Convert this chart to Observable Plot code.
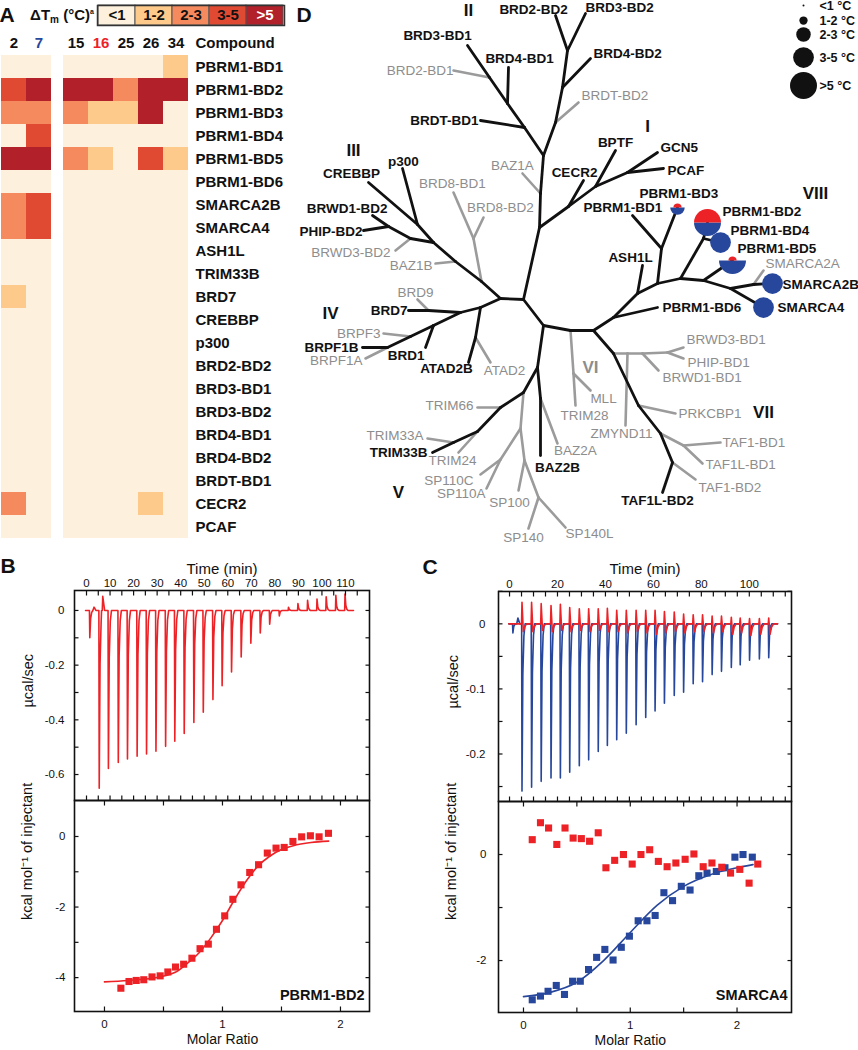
<!DOCTYPE html>
<html><head><meta charset="utf-8">
<script src="https://cdn.jsdelivr.net/npm/d3@7"></script>
<script src="https://cdn.jsdelivr.net/npm/@observablehq/plot@0.6"></script>
<style>
body{margin:0;background:#fff;}
#root{position:relative;width:858px;height:1050px;overflow:hidden;background:#fff;font-family:'Liberation Sans',Arial,Helvetica,sans-serif;color:#111;}
.txt{position:absolute;white-space:nowrap;transform:translate(-50%,-50%);}
</style></head>
<body><div id="root"></div>
<script>
// ---------------- DATA ----------------
// Panel A: thermal shift heat map
const compoundsLeft = ["2", "7"];
const compoundsRight = ["15", "16", "25", "26", "34"];
const compounds = [...compoundsLeft, ...compoundsRight];
const proteins = ["PBRM1-BD1","PBRM1-BD2","PBRM1-BD3","PBRM1-BD4","PBRM1-BD5","PBRM1-BD6","SMARCA2B","SMARCA4","ASH1L","TRIM33B","BRD7","CREBBP","p300","BRD2-BD2","BRD3-BD1","BRD3-BD2","BRD4-BD1","BRD4-BD2","BRDT-BD1","CECR2","PCAF"];
const dtmLevels = ["<1", "1-2", "2-3", "3-5", ">5"];
// level index per protein (rows) for compounds 2,7,15,16,25,26,34
const heat = [
  [0,0,0,0,0,0,1],
  [3,4,4,4,2,4,4],
  [2,2,2,1,1,4,0],
  [0,3,0,0,0,0,0],
  [4,4,2,1,0,3,1],
  [0,0,0,0,0,0,0],
  [2,3,0,0,0,0,0],
  [2,3,0,0,0,0,0],
  [0,0,0,0,0,0,0],
  [0,0,0,0,0,0,0],
  [1,0,0,0,0,0,0],
  [0,0,0,0,0,0,0],
  [0,0,0,0,0,0,0],
  [0,0,0,0,0,0,0],
  [0,0,0,0,0,0,0],
  [0,0,0,0,0,0,0],
  [0,0,0,0,0,0,0],
  [0,0,0,0,0,0,0],
  [0,0,0,0,0,0,0],
  [2,0,0,0,0,1,0],
  [0,0,0,0,0,0,0]
];

// Panel D: bromodomain tree (layout coordinates of nodes and tips)
const treeNodes = [
  ["BRD2-BD2",555,15],["BRD3-BD2",585,13],["j1",567,50],["BRD4-BD2",590,58],["j2",562,87],
  ["BRDT-BD2",578,102],["j3",555,122],["j4",543,155],
  ["k1",524,127],["BRDT-BD1",480,120],["k2",507,103],["BRD4-BD1",508,67],["k3",489,77],["BRD2-BD1",453,70],["BRD3-BD1",467,45],
  ["b1",540,193],["BAZ1A",522,173],["i0",539,227],
  ["c1",568,206],["CECR2",583,180],["b2",595,186],["BPTF",615,150],["p1",627,172],["GCN5",657,152],["PCAF",663,168],
  ["NB",523,299],["NA",500,298],["NC",543,325],["NC2",570,330],["ND",593,330],
  ["v1",613,317],["PBRM1-BD6",657,307],["v2",637,293],["ASH1L",642,265],["v3",657,283],["u1",661,248],["PBRM1-BD1",632,215],["PBRM1-BD3",677,207],
  ["v4",680,278],["w1",703,238],["PBRM1-BD2",707,222],["PBRM1-BD4",720,242],["v5",703,280],["PBRM1-BD5",732,260],
  ["v6",730,288],["s1",753,284],["SMARCA2B",772,283],["SMARCA2A",763,270],["SMARCA4",763,307],
  ["r1",613,353],["g0",627,353],["ZMYND11",625,425],["g1",642,353],["BRWD1-BD1",658,370],["g2",667,352],["BRWD3-BD1",683,347],["PHIP-BD1",683,358],
  ["r2",638,405],["PRKCBP1",675,413],["t1",660,433],["tf",683,445],["TAF1-BD1",720,442],["TAF1L-BD1",702,463],["t2",672,462],["TAF1-BD2",695,479],["TAF1L-BD2",662,492],
  ["vi1",573,373],["MLL",590,390],["TRIM28",575,405],
  ["e1",537,367],["BAZ2B",540,455],["e1b",540,398],["BAZ2A",557,443],
  ["e2",523,392],["sp0",520,428],["sp1",500,459],["SP110C",480,474],["SP110A",486,488],["sp2",524,460],["SP100",518,490],["sp3",538,497],["SP140",528,528],["SP140L",565,527],
  ["e3",500,407],["TRIM66",477,407],["e4",477,431],["TRIM24",458,452],["e5",453,442],["TRIM33A",427,438],["TRIM33B",432,452],
  ["a1",480,307],["a1b",475,337],["ATAD2B",468,362],["ATAD2",490,362],
  ["a2",460,312],["a2b",428,310],["BRD9",417,299],["BRD7",408,310],
  ["a3",433,325],["BRD1",425,347],["a4",410,336],["BRPF3",383,333],["a5",387,347],["BRPF1A",365,358],["BRPF1B",362,347],
  ["h1",481,281],["br8",473,238],["BRD8-BD1",453,192],["BRD8-BD2",483,217],["h2",455,261],["BAZ1B",435,263],
  ["R3",433,242],["C1",417,224],["CREBBP",368,182],["p300",402,168],["C2",410,238],["PH",388,226],["BRWD1-BD2",372,215],["PHIP-BD2",363,230],["BRWD3-BD2",395,250]
];
const treeEdgesStudied = [
  ["j1","BRD2-BD2"],["j1","BRD3-BD2"],["j1","j2"],["j2","BRD4-BD2"],["j2","j3"],["j3","j4"],
  ["j4","k1"],["k1","BRDT-BD1"],["k1","k2"],["k2","BRD4-BD1"],["k2","k3"],["k3","BRD3-BD1"],
  ["j4","b1"],["b1","i0"],["i0","NB"],
  ["i0","c1"],["c1","CECR2"],["c1","b2"],["b2","BPTF"],["b2","p1"],["p1","GCN5"],["p1","PCAF"],
  ["NB","NA"],["NB","NC"],["NC","NC2"],["NC2","ND"],
  ["ND","v1"],["v1","PBRM1-BD6"],["v1","v2"],["v2","ASH1L"],["v2","v3"],["v3","u1"],["u1","PBRM1-BD1"],["u1","PBRM1-BD3"],
  ["v3","v4"],["v4","w1"],["w1","PBRM1-BD2"],["w1","PBRM1-BD4"],["v4","v5"],["v5","PBRM1-BD5"],["v5","v6"],["v6","s1"],["s1","SMARCA2B"],["v6","SMARCA4"],
  ["ND","r1"],["r1","r2"],["r2","t1"],["t1","t2"],["t2","TAF1L-BD2"],
  ["NC","e1"],["e1","e2"],["e2","e3"],["e3","e4"],["e4","e5"],["e5","TRIM33B"],["e1","e1b"],["e1b","BAZ2B"],
  ["NA","a1"],["a1","a2"],["a2","a3"],["a3","a4"],["a4","a5"],["a5","BRPF1B"],["a3","BRD1"],["a1","a1b"],["a1b","ATAD2B"],["a2","a2b"],["a2b","BRD7"],
  ["NA","h1"],["h1","h2"],["h2","R3"],["R3","C1"],["C1","CREBBP"],["C1","p300"],["R3","C2"],["C2","PH"],["PH","BRWD1-BD2"],["PH","PHIP-BD2"]
];
const treeEdgesOther = [
  ["j3","BRDT-BD2"],["k3","BRD2-BD1"],["b1","BAZ1A"],["s1","SMARCA2A"],
  ["r1","g0"],["g0","g1"],["g1","g2"],["g2","BRWD3-BD1"],["g2","PHIP-BD1"],["g1","BRWD1-BD1"],["g0","ZMYND11"],
  ["r2","PRKCBP1"],["t1","tf"],["tf","TAF1-BD1"],["tf","TAF1L-BD1"],["t2","TAF1-BD2"],
  ["NC2","vi1"],["vi1","MLL"],["vi1","TRIM28"],
  ["e1b","BAZ2A"],["e2","sp0"],["sp0","sp1"],["sp1","SP110C"],["sp1","SP110A"],["sp0","sp2"],["sp2","sp3"],["sp2","SP100"],["sp3","SP140"],["sp3","SP140L"],
  ["e3","TRIM66"],["e4","TRIM24"],["e5","TRIM33A"],
  ["a1b","ATAD2"],["a2b","BRD9"],["a4","BRPF3"],["a5","BRPF1A"],
  ["h1","br8"],["br8","BRD8-BD1"],["br8","BRD8-BD2"],["h2","BAZ1B"],["C2","BRWD3-BD2"]
];
const treeLabelsStudied = [
  ["BRD2-BD2","middle",533,9],["BRD3-BD2","start",585,7],["BRD3-BD1","middle",437,35],["BRD4-BD1","middle",519,58],
  ["BRD4-BD2","start",593,53],["BRDT-BD1","end",478,120],["CREBBP","middle",351,173],["p300","middle",403,161],
  ["BRWD1-BD2","end",387,208],["PHIP-BD2","end",362,231],["BRD7","end",407,310],["BRPF1B","end",358,347],
  ["BRD1","end",424,355],["ATAD2B","middle",446,368],["TRIM33B","end",427,452],["BAZ2B","middle",557,467],
  ["TAF1L-BD2","middle",657,500],["CECR2","middle",574,172],["BPTF","middle",615,142],["GCN5","start",660,147],
  ["PCAF","start",667,170],["PBRM1-BD1","start",583,207],["PBRM1-BD3","start",639,193],["PBRM1-BD2","start",722,211],
  ["PBRM1-BD4","start",730,230],["PBRM1-BD5","start",737,248],["ASH1L","middle",630,257],["SMARCA2B","start",782,284],
  ["SMARCA4","start",777,307],["PBRM1-BD6","start",662,307]
];
const treeLabelsOther = [
  ["BRD2-BD1","end",453,70],["BRDT-BD2","start",581,95],["BAZ1A","middle",512,165],["BRD8-BD1","middle",452,183],
  ["BRD8-BD2","middle",500,207],["BRWD3-BD2","end",390,252],["BAZ1B","end",432,265],["BRD9","middle",415,292],
  ["BRPF3","end",380,333],["BRPF1A","end",362,360],["ATAD2","middle",504,370],["TRIM66","end",473,405],
  ["TRIM33A","end",423,435],["TRIM24","middle",452,460],["SP110C","end",473,480],["SP110A","end",485,493],
  ["SP100","middle",509,502],["SP140","middle",523,537],["SP140L","middle",589,533],["BAZ2A","middle",575,450],
  ["TRIM28","middle",584,415],["MLL","middle",603,398],["ZMYND11","middle",621,433],["SMARCA2A","start",765,263],
  ["BRWD3-BD1","start",686,339],["PHIP-BD1","start",687,362],["BRWD1-BD1","start",662,377],["PRKCBP1","start",678,413],
  ["TAF1-BD1","start",722,442],["TAF1L-BD1","start",705,464],["TAF1-BD2","start",698,487]
];
const treeClasses = [["I",647,126,1],["II",468,10,1],["III",353,150,1],["IV",330,313,1],["V",398,492,1],["VI",590,367,0],["VII",763,412,1],["VIII",815,193,1]];

// Panel B: PBRM1-BD2 + compound 16 (ITC)
const bInjTime = [1.4,5.4,9.3,13.5,17.4,21.5,25.5,29.5,33.6,37.5,41.5,45.6,49.6,53.7,57.6,61.6,65.7,69.8,73.8,77.8,81.9,85.8,89.8,93.9,97.9,101.8,105.9,109.8];
const bPeak = [-0.1,-0.65,-0.578,-0.556,-0.543,-0.533,-0.525,-0.515,-0.497,-0.478,-0.45,-0.41,-0.372,-0.326,-0.275,-0.225,-0.17,-0.12,-0.082,-0.05,-0.02,0.012,0.025,0.037,0.042,0.05,0.055,0.06];
const bBumps = [[3.2,0.012],[6.9,0.052]];
const bMR = [0.139,0.208,0.269,0.333,0.403,0.472,0.537,0.602,0.671,0.741,0.81,0.88,0.949,1.019,1.088,1.157,1.231,1.306,1.38,1.454,1.523,1.597,1.671,1.745,1.819,1.898];
const bKcal = [-4.30,-4.11,-4.08,-4.06,-3.98,-3.95,-3.84,-3.70,-3.62,-3.45,-3.18,-3.05,-2.63,-2.25,-1.78,-1.37,-1.02,-0.80,-0.47,-0.33,-0.31,-0.14,-0.01,0.02,-0.01,0.09];
const bFitMR = [0,0.2,0.4,0.6,0.7,0.8,0.9,1.0,1.1,1.2,1.3,1.4,1.5,1.6,1.75,1.9];
const bFitKcal = [-4.12,-4.08,-4.02,-3.85,-3.6,-3.3,-2.88,-2.38,-1.8,-1.27,-0.84,-0.56,-0.37,-0.26,-0.17,-0.13];
const bTimeLabels = [0,10,20,30,40,50,60,70,80,90,100,110];
const bRateLabels = [0,-0.2,-0.4,-0.6];
const bMRLabels = [0,1,2];
const bKcalLabels = [0,-2,-4];

// Panel C: SMARCA4 + compound 7 (blue) and compound 16 (red)
const cInjTime = [1.4,5.2,9.2,13.2,17.3,21.2,25.1,29.1,33.0,37.0,40.8,44.7,48.7,52.8,56.8,60.7,64.6,68.7,72.6,76.6,80.5,84.5,88.4,92.5,96.2,100.1,104.2,108.1];
const cPeak7 = [-0.014,-0.257,-0.251,-0.242,-0.237,-0.237,-0.228,-0.218,-0.209,-0.196,-0.187,-0.178,-0.168,-0.155,-0.144,-0.134,-0.122,-0.110,-0.105,-0.092,-0.089,-0.078,-0.073,-0.067,-0.063,-0.056,-0.054,-0.052];
const cBumps7 = [[3.5,0.009]];
const cPeak16 = [0.033,0.033,0.031,0.028,0.030,0.025,0.023,0.023,0.023,0.024,0.021,0.021,0.021,0.021,0.021,0.019,0.018,0.015,0.014,0.014,0.012,0.012,0.010,0.009,0.008,0.008,0.009];
const cDip16 = [-0.012,-0.012,-0.010,-0.012,-0.010,-0.012,-0.010,-0.012,-0.010,-0.012,-0.012,-0.014,-0.012,-0.014,-0.016,-0.014,-0.012,-0.014,-0.012,-0.012,-0.014,-0.012,-0.016,-0.014,-0.018,-0.016,-0.016];
const cMR7 = [0.082,0.159,0.23,0.307,0.384,0.46,0.532,0.609,0.685,0.762,0.839,0.916,0.992,1.074,1.156,1.233,1.315,1.396,1.478,1.56,1.642,1.719,1.806,1.887,1.98,2.056,2.143];
const cKcal7 = [-2.74,-2.67,-2.58,-2.47,-2.64,-2.39,-2.39,-2.17,-1.94,-1.79,-1.99,-1.75,-1.54,-1.25,-1.25,-1.15,-0.72,-0.87,-0.60,-0.67,-0.40,-0.35,-0.32,-0.25,-0.05,0.0,-0.05];
const cMR16 = [0.082,0.159,0.235,0.312,0.389,0.465,0.542,0.619,0.7,0.772,0.854,0.936,1.018,1.1,1.182,1.263,1.345,1.427,1.514,1.596,1.683,1.765,1.857,1.939,2.026,2.113,2.194];
const cKcal16 = [0.28,0.60,0.50,0.19,0.50,0.31,0.30,0.25,0.41,-0.25,-0.11,0.0,-0.18,0.0,0.09,-0.13,-0.23,-0.16,-0.09,0.01,-0.23,-0.16,-0.24,-0.35,-0.28,-0.54,-0.18];
const cFitMR = [0,0.25,0.5,0.75,1.0,1.25,1.5,1.75,2.0,2.15];
const cFitKcal = [-2.68,-2.6,-2.41,-2.0,-1.47,-0.96,-0.6,-0.38,-0.25,-0.19];
const cTimeLabels = [0,20,40,60,80,100];
const cRateLabels = [0,-0.1,-0.2];
const cMRLabels = [0,1,2];
const cKcalLabels = [0,-2];

// ---------------- STYLE ----------------
const FONT = "'Liberation Sans', Arial, Helvetica, sans-serif";
const INK = "#111";
const RED = "#ec2227";
const BLUE = "#27479c";
const GRAYLINE = "#9b9b9b";
const GRAYTEXT = "#8d8d8d";
const dtmColors = ["#fdf0dc", "#fdca8b", "#f48a5e", "#e04a33", "#b2202a"];
const root = document.getElementById("root");
const style = () => ({fontFamily: FONT, fontSize: "11.5px", background: "transparent", overflow: "visible", color: INK});
function mount(svg, left, top) {
  svg.style.position = "absolute"; svg.style.left = left + "px"; svg.style.top = top + "px";
  svg.style.maxWidth = "none"; svg.style.overflow = "visible";
  root.appendChild(svg);
}
function htmlText(html, x, y, css) {
  const d = document.createElement("div");
  d.className = "txt"; d.innerHTML = html;
  d.style.left = x + "px"; d.style.top = y + "px";
  d.style.cssText += css || "";
  root.appendChild(d);
}

// ---------------- PANEL A ----------------
const cells = proteins.flatMap((p, i) => compounds.map((c, j) => ({protein: p, compound: c, level: dtmLevels[heat[i][j]]})));
const heatColor = {type: "ordinal", domain: dtmLevels, range: dtmColors};
const colLabel = (list, fill) => Plot.text(list, {x: d => d, text: d => d, frameAnchor: "top", lineAnchor: "bottom", dy: -1, fontSize: 15, fontWeight: "bold", fill});

mount(Plot.plot({
  width: 52, height: 550, marginLeft: 0, marginRight: 1, marginTop: 48, marginBottom: 5,
  x: {type: "band", domain: compoundsLeft, padding: 0, axis: null},
  y: {type: "band", domain: proteins, padding: 0, axis: null},
  color: heatColor, style: style(),
  marks: [
    Plot.cell(cells.filter(d => compoundsLeft.includes(d.compound)), {x: "compound", y: "protein", fill: "level", inset: 0}),
    colLabel(compoundsLeft.filter(c => c !== "7"), INK),
    colLabel(["7"], BLUE)
  ]
}), 0, 0);

mount(Plot.plot({
  width: 239, height: 550, marginLeft: 0, marginRight: 111, marginTop: 48, marginBottom: 5,
  x: {type: "band", domain: compoundsRight, padding: 0, axis: null},
  y: {type: "band", domain: proteins, padding: 0, axis: null},
  color: heatColor, style: style(),
  marks: [
    Plot.cell(cells.filter(d => compoundsRight.includes(d.compound)), {x: "compound", y: "protein", fill: "level", inset: 0}),
    colLabel(compoundsRight.filter(c => c !== "16"), INK),
    colLabel(["16"], RED),
    Plot.text(["Compound"], {frameAnchor: "top-right", dx: 6, dy: -1, textAnchor: "start", lineAnchor: "bottom", fontSize: 15, fontWeight: "bold", fill: INK}),
    Plot.axisY({anchor: "right", tickSize: 0, tickPadding: 6, label: null, fontSize: 15, fontWeight: "bold", fill: INK})
  ]
}), 61, 0);

// legend for A
mount(Plot.plot({
  width: 300, height: 30, marginLeft: 97, marginRight: 16, marginTop: 5, marginBottom: 5,
  x: {type: "band", domain: dtmLevels, padding: 0, axis: null},
  color: heatColor, style: style(),
  marks: [
    Plot.cell(dtmLevels, {x: d => d, fill: d => d, stroke: "#555", strokeWidth: 1, inset: 0}),
    Plot.frame({stroke: "#333", strokeWidth: 1.5}),
    Plot.text(dtmLevels.filter(l => l !== ">5"), {x: d => d, text: d => d, fontSize: 15, fontWeight: "bold", fill: INK}),
    Plot.text([">5"], {x: d => d, text: d => d, fontSize: 15, fontWeight: "bold", fill: "#fff"})
  ]
}), 0, 0);
htmlText('ΔT<sub style="font-size:10px;vertical-align:-3px">m</sub> (°C)<sup style="font-size:7px;vertical-align:6px">a</sup>', 62, 16, "font-weight:bold;font-size:15px;line-height:18px;");
htmlText("A", 7, 15, "font-weight:bold;font-size:21px;");

// ---------------- PANEL D ----------------
const nodeMap = new Map(treeNodes.map(([id, x, y]) => [id, {x, y}]));
const toLinks = edges => edges.map(([a, b]) => ({x1: nodeMap.get(a).x, y1: nodeMap.get(a).y, x2: nodeMap.get(b).x, y2: nodeMap.get(b).y}));
const halfTop = {draw(ctx, size) { const r = Math.sqrt(size / Math.PI); ctx.moveTo(-r, 0); ctx.arc(0, 0, r, Math.PI, 2 * Math.PI); ctx.closePath(); }};
const halfBottom = {draw(ctx, size) { const r = Math.sqrt(size / Math.PI); ctx.moveTo(r, 0); ctx.arc(0, 0, r, 0, Math.PI); ctx.closePath(); }};
const idx7 = compounds.indexOf("7"), idx16 = compounds.indexOf("16");
const circ = proteins.map((p, i) => ({p, l7: heat[i][idx7], l16: heat[i][idx16], ...(nodeMap.get(p) || {})})).filter(d => d.x !== undefined && (d.l7 > 0 || d.l16 > 0));
const fullBlue = circ.filter(d => d.l16 === 0 && d.l7 > 0);
const halves = circ.filter(d => d.l16 > 0 && d.l7 > 0);
const legendY = [5, 20, 34, 57, 85];
const legendItems = dtmLevels.map((l, i) => ({l, i, y: legendY[i]}));

const labelMarks = [];
for (const [list, fill, weight] of [[treeLabelsOther, GRAYTEXT, "normal"], [treeLabelsStudied, INK, "bold"]]) {
  for (const anchor of ["start", "middle", "end"]) {
    labelMarks.push(Plot.text(list.filter(d => d[1] === anchor), {x: d => d[2], y: d => d[3], text: d => d[0], textAnchor: anchor, fill, fontWeight: weight, fontSize: 13.5}));
  }
}
mount(Plot.plot({
  width: 558, height: 560, marginLeft: 0, marginRight: 0, marginTop: 0, marginBottom: 0,
  x: {domain: [300, 858], range: [0, 558], axis: null},
  y: {domain: [0, 560], range: [0, 560], axis: null},
  r: {type: "linear", domain: [0, 4], range: [1, 13.5]},
  style: style(),
  marks: [
    Plot.link(toLinks(treeEdgesOther), {x1: "x1", y1: "y1", x2: "x2", y2: "y2", stroke: GRAYLINE, strokeWidth: 2.6, strokeLinecap: "round"}),
    Plot.link(toLinks(treeEdgesStudied), {x1: "x1", y1: "y1", x2: "x2", y2: "y2", stroke: INK, strokeWidth: 2.8, strokeLinecap: "round"}),
    ...labelMarks,
    Plot.text(treeClasses.filter(d => d[3]), {x: d => d[1], y: d => d[2], text: d => d[0], fontSize: 17, fontWeight: "bold", fill: INK}),
    Plot.text(treeClasses.filter(d => !d[3]), {x: d => d[1], y: d => d[2], text: d => d[0], fontSize: 17, fontWeight: "bold", fill: GRAYTEXT}),
    Plot.dot(fullBlue, {x: "x", y: "y", r: "l7", fill: BLUE}),
    Plot.dot(halves, {x: "x", y: "y", r: "l7", fill: BLUE, symbol: halfBottom}),
    Plot.dot(halves, {x: "x", y: "y", r: "l16", fill: RED, symbol: halfTop}),
    Plot.dot(legendItems, {x: () => 803, y: "y", r: "i", fill: INK}),
    Plot.text(legendItems, {x: () => 819, y: "y", text: d => d.l + " °C", textAnchor: "start", fontSize: 12.5, fontWeight: "bold", fill: INK})
  ]
}), 300, 0);
htmlText("D", 304, 15, "font-weight:bold;font-size:21px;");

// ---------------- PANELS B & C ----------------
function trace(times, peaks, bumps, start, end, dips) {
  const v = [[start, 0]];
  times.forEach((t, i) => {
    const p = peaks[i];
    if (dips) v.push([t - 0.2, 0], [t, p], [t + 0.55, dips[i]], [t + 1.2, dips[i] * 0.3], [t + 2, 0]);
    else v.push([t - 0.15, 0], [t, p], [t + 0.35, p * 0.3], [t + 0.8, p * 0.07], [t + 1.3, 0]);
  });
  (bumps || []).forEach(([t, b]) => v.push([t - 0.5, 0], [t, b], [t + 0.8, 0]));
  v.push([end, 0]);
  return v.sort((a, b) => a[0] - b[0]).map(([t, y]) => ({t, y}));
}
function frameMarks({xTicks, yTicks, xLabels, xAnchor, xPad, yLabels, yPad}) {
  return [
    Plot.frame({stroke: INK, strokeWidth: 1.6}),
    Plot.axisX(xTicks, {anchor: "top", tickSize: 4.5, dy: 4.5, fill: "none", label: null, stroke: INK, strokeWidth: 1.2}),
    Plot.axisX(xTicks, {anchor: "bottom", tickSize: 4.5, dy: -4.5, fill: "none", label: null, stroke: INK, strokeWidth: 1.2}),
    Plot.axisY(yTicks, {anchor: "left", tickSize: 4.5, dx: 4.5, fill: "none", label: null, stroke: INK, strokeWidth: 1.2}),
    Plot.axisY(yTicks, {anchor: "right", tickSize: 4.5, dx: -4.5, fill: "none", label: null, stroke: INK, strokeWidth: 1.2}),
    Plot.axisX(xLabels, {anchor: xAnchor, tickSize: 0, tickPadding: xPad, label: null, tickFormat: d => String(d), fontSize: 11.5, fill: INK}),
    Plot.axisY(yLabels, {anchor: "left", tickSize: 0, tickPadding: yPad, label: null, tickFormat: d => String(d), fontSize: 11.5, fill: INK})
  ];
}
const ytitle = (t, dx, dy) => Plot.text([t], {frameAnchor: "left", dx, dy, rotate: -90, fontSize: 14.5, fill: INK});

// B upper
mount(Plot.plot({
  width: 400, height: 262, marginLeft: 74, marginRight: 31, marginTop: 50, marginBottom: 2,
  x: {domain: [-5.1, 120.2], axis: null}, y: {domain: [-0.695, 0.073], axis: null}, style: style(),
  marks: [
    Plot.line(trace(bInjTime, bPeak, bBumps, -0.4, 113.4), {x: "t", y: "y", stroke: RED, strokeWidth: 1.6}),
    ...frameMarks({xTicks: d3.range(0, 116, 5), yTicks: d3.range(0, -0.65, -0.1), xLabels: bTimeLabels, xAnchor: "top", xPad: 4, yLabels: bRateLabels, yPad: 10}),
    Plot.text(["Time (min)"], {frameAnchor: "top", dy: -27, fontSize: 15, fill: INK}),
    ytitle("µcal/sec", -46, 12)
  ]
}), 0, 540);

// B lower
mount(Plot.plot({
  width: 400, height: 250, marginLeft: 74, marginRight: 31, marginTop: 0, marginBottom: 39,
  x: {domain: [-0.254, 2.246], axis: null}, y: {domain: [-4.96, 1.02], axis: null}, style: style(),
  marks: [
    Plot.line(bFitMR.map((x, i) => ({x, y: bFitKcal[i]})), {x: "x", y: "y", stroke: RED, strokeWidth: 1.6, curve: "monotone-x"}),
    Plot.dot(bMR.map((x, i) => ({x, y: bKcal[i]})), {x: "x", y: "y", symbol: "square", r: 4, fill: RED}),
    ...frameMarks({xTicks: [0, 0.5, 1, 1.5, 2], yTicks: [0, -1, -2, -3, -4], xLabels: bMRLabels, xAnchor: "bottom", xPad: 8, yLabels: bKcalLabels, yPad: 9}),
    Plot.text([1], {x: d => d, text: () => "Molar Ratio", frameAnchor: "bottom", dy: 32, fontSize: 14, fill: INK}),
    Plot.text(["PBRM1-BD2"], {frameAnchor: "bottom-right", dx: -5, dy: -12, textAnchor: "end", fontSize: 14.5, fontWeight: "bold", fill: INK}),
    ytitle("kcal mol⁻¹ of injectant", -47, 14)
  ]
}), 0, 800);
htmlText("B", 8, 566, "font-weight:bold;font-size:21px;");

// C upper
mount(Plot.plot({
  width: 438, height: 261, marginLeft: 78, marginRight: 67, marginTop: 51, marginBottom: 0,
  x: {domain: [-4.6, 117.6], axis: null}, y: {domain: [-0.273, 0.0497], axis: null}, style: style(),
  marks: [
    Plot.line(trace(cInjTime, cPeak7, cBumps7, -0.3, 111.8), {x: "t", y: "y", stroke: BLUE, strokeWidth: 1.6}),
    Plot.line(trace(cInjTime.slice(1), cPeak16, null, -0.3, 111.8, cDip16), {x: "t", y: "y", stroke: RED, strokeWidth: 1.6}),
    ...frameMarks({xTicks: d3.range(0, 116, 5), yTicks: d3.range(0.05, -0.27, -0.05).map(v => +v.toFixed(2)), xLabels: cTimeLabels, xAnchor: "top", xPad: 4, yLabels: cRateLabels, yPad: 13}),
    Plot.text(["Time (min)"], {frameAnchor: "top", dy: -28, fontSize: 15, fill: INK}),
    ytitle("µcal/sec", -45, 12)
  ]
}), 420, 540);

// C lower
mount(Plot.plot({
  width: 438, height: 249, marginLeft: 78, marginRight: 67, marginTop: 0, marginBottom: 38,
  x: {domain: [-0.234, 2.51], axis: null}, y: {domain: [-2.98, 1.0], axis: null}, style: style(),
  marks: [
    Plot.line(cFitMR.map((x, i) => ({x, y: cFitKcal[i]})), {x: "x", y: "y", stroke: BLUE, strokeWidth: 1.6, curve: "monotone-x"}),
    Plot.dot(cMR7.map((x, i) => ({x, y: cKcal7[i]})), {x: "x", y: "y", symbol: "square", r: 4, fill: BLUE}),
    Plot.dot(cMR16.map((x, i) => ({x, y: cKcal16[i]})), {x: "x", y: "y", symbol: "square", r: 4, fill: RED}),
    ...frameMarks({xTicks: [0, 0.5, 1, 1.5, 2], yTicks: [0, -1, -2], xLabels: cMRLabels, xAnchor: "bottom", xPad: 8, yLabels: cKcalLabels, yPad: 12}),
    Plot.text([1], {x: d => d, text: () => "Molar Ratio", frameAnchor: "bottom", dy: 32, fontSize: 14, fill: INK}),
    Plot.text(["SMARCA4"], {frameAnchor: "bottom-right", dx: -4, dy: -13, textAnchor: "end", fontSize: 14.5, fontWeight: "bold", fill: INK}),
    ytitle("kcal mol⁻¹ of injectant", -47, 13)
  ]
}), 420, 801);
htmlText("C", 430, 567, "font-weight:bold;font-size:21px;");
</script>
</body></html>
